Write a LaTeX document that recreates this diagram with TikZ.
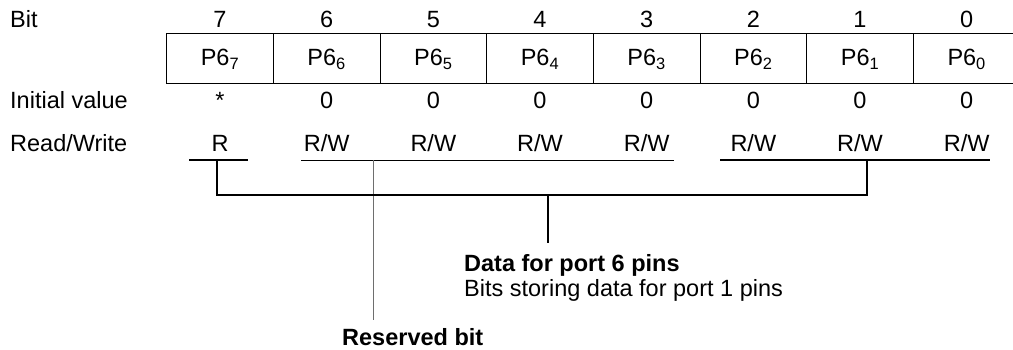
\documentclass[tikz,border=0pt]{standalone}
\usepackage{fontspec}
\setmainfont{Liberation Sans}
\usepackage{tikz}
\usetikzlibrary{positioning, calc}
\definecolor{reggray}{RGB}{110, 110, 110}
\newcommand{\bitsub}[1]{\textsubscript{#1}}

\begin{document}
\begin{tikzpicture}[
    x=1pt, y=-1pt,
    every node/.style={font=\fontsize{23.5}{28}\selectfont, inner sep=0pt},
    cell/.style={rectangle, draw, line width=0.9pt, minimum width=106.67pt, minimum height=50pt, text height=17pt, text depth=2pt, anchor=center},
    rowlabel/.style={anchor=base west},
    bitval/.style={anchor=base},
    boldlabel/.style={anchor=base west, font=\fontsize{23.5}{28}\selectfont\bfseries},
    underline/.style={line width=1pt},
    bracket/.style={line width=2.6pt},
    reserved/.style={line width=0.9pt, color=reggray}
]
    \useasboundingbox (0,0) rectangle (1013,349);

    % row labels
    \node[rowlabel] (lbit) at (10,27.5) {Bit};
    \node[rowlabel] (linit) at (10,108) {Initial value};
    \node[rowlabel] (lrw) at (10,151) {Read/Write};

    % register cells, bit numbers and attributes
    \foreach \i/\init/\rw in {7/*/R, 6/0/{R/W}, 5/0/{R/W}, 4/0/{R/W}, 3/0/{R/W}, 2/0/{R/W}, 1/0/{R/W}, 0/0/{R/W}} {
        \node[cell] (cell\i) at ({220+106.67*(7-\i)},58) {P6\bitsub{\i}};
        \node[bitval] (num\i) at ({220+106.67*(7-\i)},27.5) {\i};
        \node[bitval] (init\i) at ({220+106.67*(7-\i)},108) {\init};
        \node[bitval] (rw\i) at ({220+106.67*(7-\i)},151) {\rw};
    }

    % underlines below read/write row
    \coordinate (rA) at (189,160);
    \coordinate (rB) at (248,160);
    \coordinate (resA) at (301,160);
    \coordinate (resB) at (674,160);
    \coordinate (datA) at (720,160);
    \coordinate (datB) at (990,160);
    \draw[bracket] (rA) -- (rB);
    \draw[underline] (resA) -- (resB);
    \draw[bracket] (datA) -- (datB);

    % labels
    \node[boldlabel] (dtitle) at (464,271) {Data for port 6 pins};
    \node[rowlabel] (ddesc) at (464,296) {Bits storing data for port 1 pins};
    \node[boldlabel] (rtitle) at (342,345) {Reserved bit};

    % brackets
    \coordinate (rtop) at (217,160);
    \coordinate (dtop) at (867,160);
    \coordinate (stem) at (548,195);
    \coordinate (stemend) at (548,243);
    \coordinate (restop) at (373,160);
    \coordinate (resend) at (373,320);
    \draw[reserved] (restop) -- (resend);
    \draw[bracket, line join=miter] (rtop) |- (stem) -| (dtop);
    \draw[bracket] (stem) -- (stemend);
\end{tikzpicture}
\end{document}
